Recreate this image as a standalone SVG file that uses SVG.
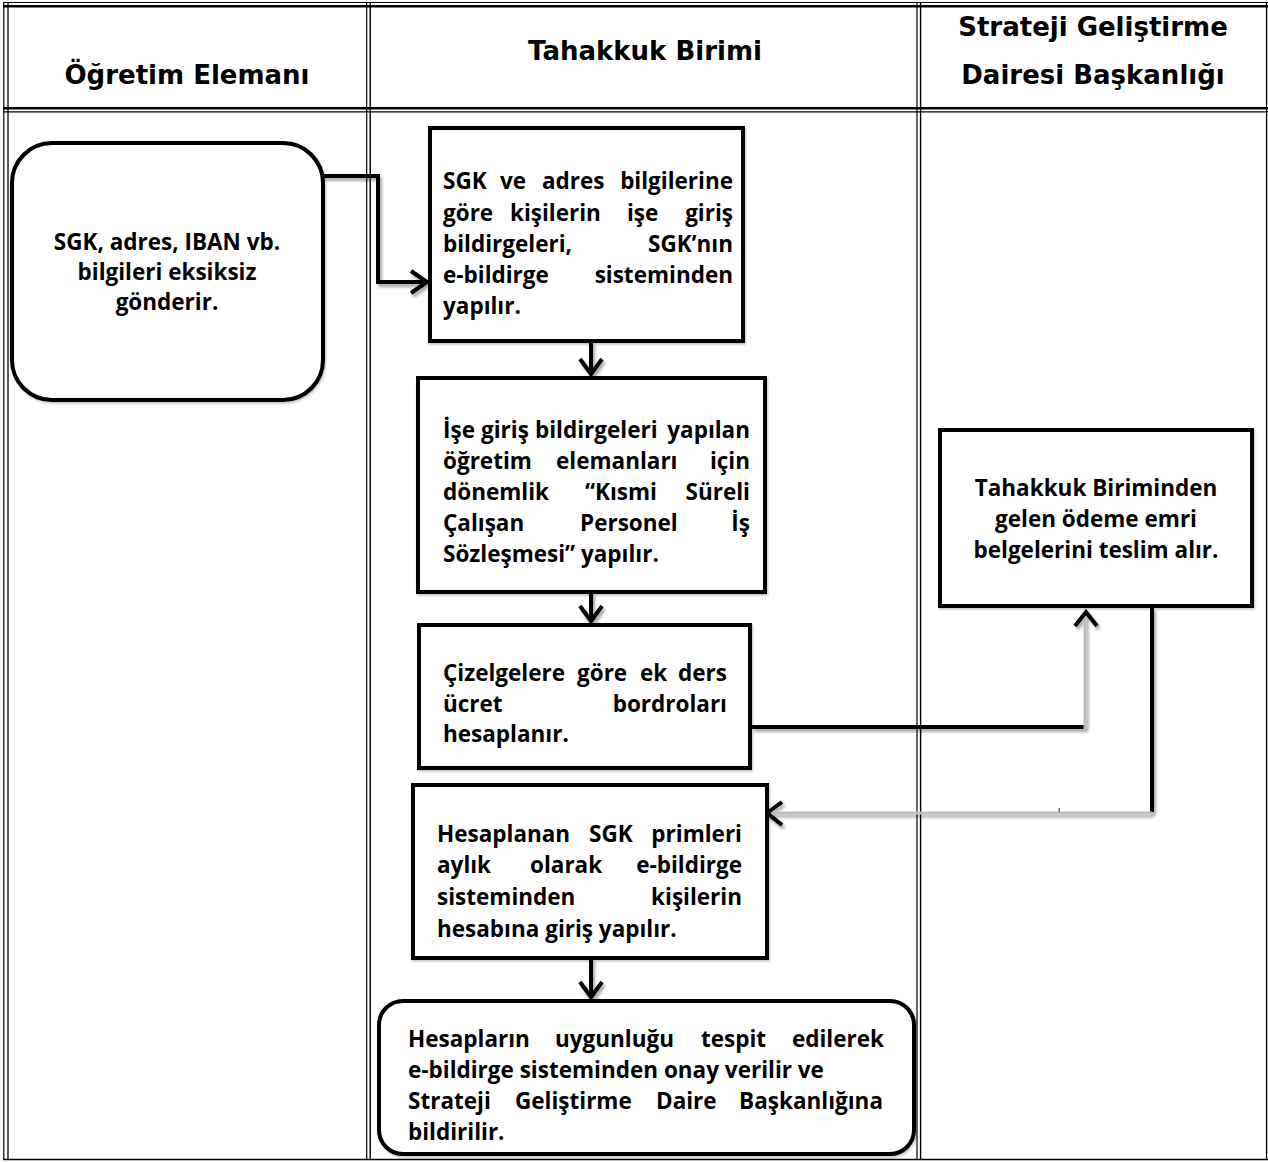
<svg xmlns="http://www.w3.org/2000/svg" width="1268" height="1162" viewBox="0 0 1268 1162">
<defs>
<style>
.t{font-family:"Open Sans","Noto Sans",sans-serif;font-weight:700;font-size:22.5px;fill:#000}
.e{text-anchor:end}
.m{text-anchor:middle}
.h{font-family:"DejaVu Sans",Verdana,sans-serif;font-weight:700;font-size:26px;fill:#000;text-anchor:middle}
.box{fill:#fff;stroke:#000;stroke-width:4}
.tl{stroke:#000;fill:none}
.c{fill:none;stroke:#000;stroke-width:4}
.g{fill:none;stroke:#bdbdbd;stroke-width:3}
.ah{fill:none;stroke:#000;stroke-width:4;stroke-linejoin:miter}
</style>
<filter id="sh" x="-20%" y="-20%" width="140%" height="140%"><feDropShadow dx="2" dy="3" stdDeviation="1.8" flood-color="#000" flood-opacity="0.35"/></filter>
<filter id="bs" x="-5%" y="-5%" width="110%" height="110%"><feDropShadow dx="1" dy="1.5" stdDeviation="1" flood-color="#000" flood-opacity="0.25"/></filter>
</defs>
<rect width="1268" height="1162" fill="#fff"/>

<g id="table">
<line class="tl" x1="3" y1="2.5" x2="1268" y2="2.5" stroke-width="1.2"/>
<line class="tl" x1="3" y1="6.2" x2="1268" y2="6.2" stroke-width="2.4"/>
<line class="tl" x1="3" y1="108.2" x2="1268" y2="108.2" stroke-width="2.4"/>
<line class="tl" x1="3" y1="111.8" x2="1268" y2="111.8" stroke-width="1.3"/>
<line class="tl" x1="3" y1="1159.5" x2="1268" y2="1159.5" stroke-width="1.5"/>
<line class="tl" x1="3.8" y1="2" x2="3.8" y2="1160" stroke-width="1.2"/>
<line class="tl" x1="8" y1="2" x2="8" y2="1160" stroke-width="1.3"/>
<line class="tl" x1="366.7" y1="2" x2="366.7" y2="1160" stroke-width="1.2"/>
<line class="tl" x1="370.2" y1="2" x2="370.2" y2="1160" stroke-width="1.4"/>
<line class="tl" x1="917" y1="2" x2="917" y2="1160" stroke-width="1.2"/>
<line class="tl" x1="920.6" y1="2" x2="920.6" y2="1160" stroke-width="1.4"/>
<line class="tl" x1="1266.6" y1="2" x2="1266.6" y2="1160" stroke-width="1.3"/>
</g>

<g id="headers">
<text class="h" x="187" y="84">Öğretim Elemanı</text>
<text class="h" x="645" y="60">Tahakkuk Birimi</text>
<text class="h" x="1093" y="36">Strateji Geliştirme</text>
<text class="h" x="1093" y="84">Dairesi Başkanlığı</text>
</g>

<g id="connectors">
<g filter="url(#sh)">
<path class="c" d="M323 176 H378 V282 H426"/>
<polyline class="ah" points="411,271 427,282 411,293"/>
<path class="c" d="M591 341 V375"/>
<polyline class="ah" points="580,359 591,374 602,359"/>
<path class="c" d="M591 592 V621"/>
<polyline class="ah" points="580,606 591,621 602,606"/>
<path class="c" d="M752 727 H1084"/>
<path class="g" d="M1085 729 V614"/>
<polyline class="ah" points="1075,626 1086,612 1097,626"/>
<path class="c" d="M1152 608 V812"/>
<path class="g" d="M1152 813 H770"/>
<polyline class="ah" points="782,802 767,813 782,825"/>
<path class="c" d="M591 958 V997"/>
<polyline class="ah" points="580,982 591,997 602,982"/>
</g>
<rect x="1058.5" y="808" width="1.5" height="4" fill="#3a6fc0"/>
</g>

<g id="n1">
<rect class="box" filter="url(#bs)" x="12" y="143" width="311" height="257" rx="40"/>
<text class="t m" x="167" y="250">SGK, adres, IBAN vb.</text>
<text class="t m" x="167" y="280">bilgileri eksiksiz</text>
<text class="t m" x="167" y="310">gönderir.</text>
</g>

<g id="n2">
<rect class="box" filter="url(#bs)" x="430" y="128" width="313" height="213"/>
<text class="t" x="443" y="189">SGK</text>
<text class="t" x="500" y="189">ve</text>
<text class="t" x="542" y="189">adres</text>
<text class="t e" x="733" y="189">bilgilerine</text>
<text class="t" x="443" y="221">göre</text>
<text class="t" x="510" y="221">kişilerin</text>
<text class="t" x="627" y="221">işe</text>
<text class="t e" x="733" y="221">giriş</text>
<text class="t" x="443" y="252">bildirgeleri,</text>
<text class="t e" x="733" y="252">SGK’nın</text>
<text class="t" x="443" y="283">e-bildirge</text>
<text class="t e" x="733" y="283">sisteminden</text>
<text class="t" x="443" y="314">yapılır.</text>
</g>

<g id="n3">
<rect class="box" filter="url(#bs)" x="418" y="378" width="347" height="214"/>
<text class="t" x="443" y="438">İşe</text>
<text class="t" x="481" y="438">giriş</text>
<text class="t" x="535" y="438">bildirgeleri</text>
<text class="t e" x="750" y="438">yapılan</text>
<text class="t" x="443" y="469">öğretim</text>
<text class="t" x="556" y="469">elemanları</text>
<text class="t e" x="750" y="469">için</text>
<text class="t" x="443" y="500">dönemlik</text>
<text class="t" x="585" y="500">“Kısmi</text>
<text class="t e" x="750" y="500">Süreli</text>
<text class="t" x="443" y="531">Çalışan</text>
<text class="t" x="580" y="531">Personel</text>
<text class="t e" x="750" y="531">İş</text>
<text class="t" x="443" y="562">Sözleşmesi” yapılır.</text>
</g>

<g id="n4">
<rect class="box" filter="url(#bs)" x="419" y="625" width="331" height="143"/>
<text class="t" x="443" y="681">Çizelgelere</text>
<text class="t" x="577" y="681">göre</text>
<text class="t" x="640" y="681">ek</text>
<text class="t e" x="727" y="681">ders</text>
<text class="t" x="443" y="712">ücret</text>
<text class="t e" x="727" y="712">bordroları</text>
<text class="t" x="443" y="742">hesaplanır.</text>
</g>

<g id="n5">
<rect class="box" filter="url(#bs)" x="413" y="785" width="354" height="173"/>
<text class="t" x="437" y="842">Hesaplanan</text>
<text class="t" x="589" y="842">SGK</text>
<text class="t e" x="742" y="842">primleri</text>
<text class="t" x="437" y="873">aylık</text>
<text class="t" x="530" y="873">olarak</text>
<text class="t e" x="742" y="873">e-bildirge</text>
<text class="t" x="437" y="905">sisteminden</text>
<text class="t e" x="742" y="905">kişilerin</text>
<text class="t" x="437" y="937">hesabına giriş yapılır.</text>
</g>

<g id="n6">
<rect class="box" filter="url(#bs)" x="379" y="1001" width="535" height="153" rx="24"/>
<text class="t" x="408" y="1047">Hesapların</text>
<text class="t" x="555" y="1047">uygunluğu</text>
<text class="t" x="701" y="1047">tespit</text>
<text class="t e" x="884" y="1047">edilerek</text>
<text class="t" x="408" y="1078">e-bildirge sisteminden onay verilir ve</text>
<text class="t" x="408" y="1109">Strateji</text>
<text class="t" x="515" y="1109">Geliştirme</text>
<text class="t" x="656" y="1109">Daire</text>
<text class="t e" x="883" y="1109">Başkanlığına</text>
<text class="t" x="408" y="1140">bildirilir.</text>
</g>

<g id="n7">
<rect class="box" filter="url(#bs)" x="940" y="430" width="312" height="176"/>
<text class="t m" x="1096" y="496">Tahakkuk Biriminden</text>
<text class="t m" x="1096" y="527">gelen ödeme emri</text>
<text class="t m" x="1096" y="558">belgelerini teslim alır.</text>
</g>
</svg>
